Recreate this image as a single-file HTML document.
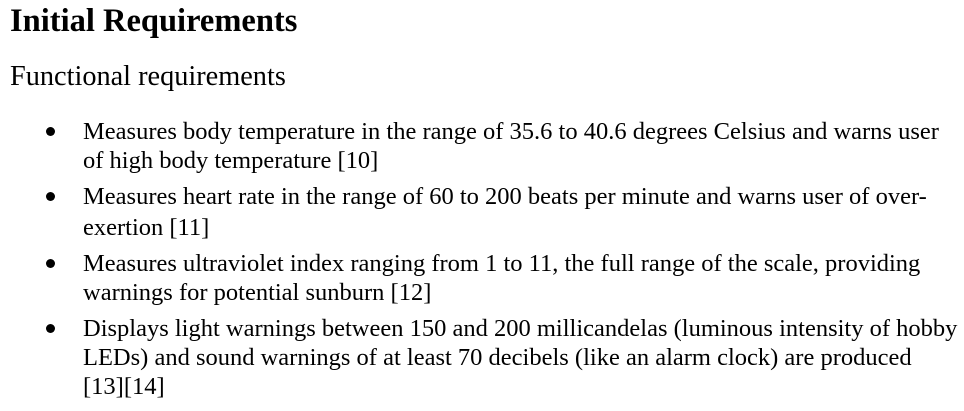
<!DOCTYPE html>
<html><head><meta charset="utf-8"><style>
html,body{margin:0;padding:0;background:#fff;width:964px;height:411px;overflow:hidden}
body{font-family:"Liberation Serif",serif;color:#000;position:relative}
.l{position:absolute;white-space:nowrap;line-height:1}
h1{position:absolute;left:10px;top:5px;margin:0;font-size:32.5px;font-weight:bold;line-height:1;white-space:nowrap}
h2{position:absolute;left:10px;top:63px;margin:0;font-size:28.3px;font-weight:normal;line-height:1;white-space:nowrap}
.t{font-size:24.5px;left:83px}
.b{position:absolute;left:46px;width:9px;height:9px;border-radius:50%;background:#000}
</style></head><body>
<h1>Initial Requirements</h1>
<h2>Functional requirements</h2>
<ul style="margin:0;padding:0;list-style:none">
<li>
<span class="b" style="top:127px"></span>
<span class="l t" style="top:120px">Measures body temperature in the range of 35.6 to 40.6 degrees Celsius and warns user</span>
<span class="l t" style="top:149px">of high body temperature [10]</span></li>
<li>
<span class="b" style="top:192px"></span>
<span class="l t" style="top:185px">Measures heart rate in the range of 60 to 200 beats per minute and warns user of over-</span>
<span class="l t" style="top:216px">exertion [11]</span></li>
<li>
<span class="b" style="top:259px"></span>
<span class="l t" style="top:252px">Measures ultraviolet index ranging from 1 to 11, the full range of the scale, providing</span>
<span class="l t" style="top:281px">warnings for potential sunburn [12]</span></li>
<li>
<span class="b" style="top:324px"></span>
<span class="l t" style="top:317px">Displays light warnings between 150 and 200 millicandelas (luminous intensity of hobby</span>
<span class="l t" style="top:346px">LEDs) and sound warnings of at least 70 decibels (like an alarm clock) are produced</span>
<span class="l t" style="top:375px">[13][14]</span></li>
</ul>
</body></html>
